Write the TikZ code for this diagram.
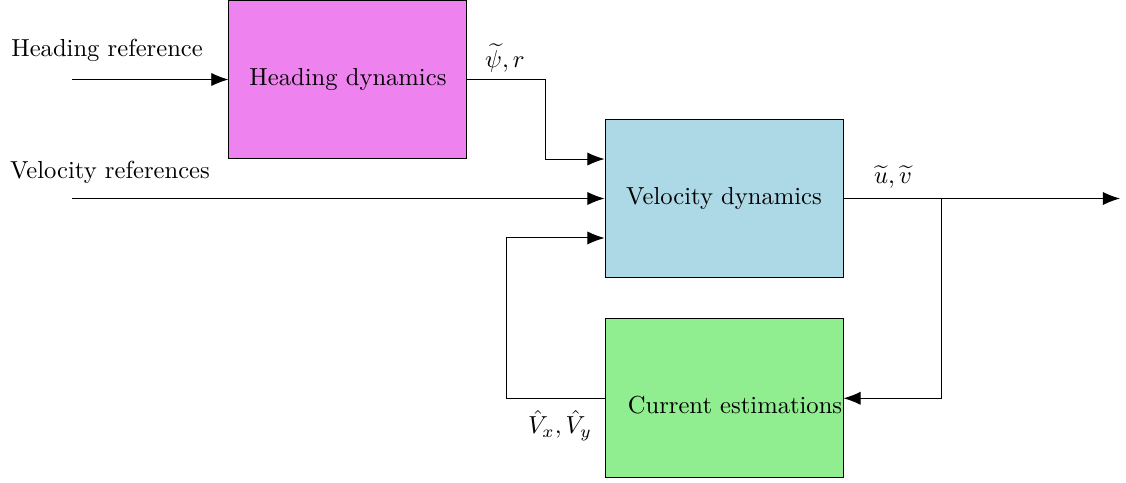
\documentclass[tikz,border=0pt]{standalone}
\usepackage{amsmath,amssymb}
\usetikzlibrary{arrows.meta,positioning}
\definecolor{headfill}{HTML}{EE82EE}
\definecolor{velfill}{HTML}{ADD8E6}
\definecolor{curfill}{HTML}{90EE90}

\begin{document}
\begin{tikzpicture}[
    block/.style={draw, minimum width=3.4cm, minimum height=2.27cm, inner sep=0pt},
    lbl/.style={inner sep=1pt},
    arrow/.style={-{Latex[length=7pt, width=5.4pt]}, line width=0.4pt}
]
\useasboundingbox (0,0) rectangle (16.086,6.886);

\node[block, fill=headfill] (head) at (4.971,5.75) {Heading dynamics};
\node[block, fill=velfill] (vel) at (10.343,4.05) {Velocity dynamics};
\node[block, fill=curfill, below=0.57cm of vel] (cur) {};
\node[lbl] (curtext) at (10.5,1.1) {Current estimations};

% inputs
\coordinate (hin) at (1.03,5.75);
\coordinate (vin) at (1.03,4.05);
\node[lbl] (hreflbl) at (1.53,6.17) {Heading reference};
\node[lbl] (vreflbl) at (1.57,4.43) {Velocity references};
\draw[arrow] (hin) -- (head.west);
\draw[arrow] (vin) -- (vel.west);

% heading to velocity
\draw[arrow] (head.east) -- ++(1.114,0) |- ([yshift=0.564cm]vel.west);
\node[lbl] (psilbl) at (7.214,6.06) {$\widetilde{\psi}, r$};

% output and feedback
\coordinate (vout) at (16.0,4.05);
\coordinate (branch) at (13.457,4.05);
\draw[arrow] (vel.east) -- (vout);
\draw[arrow] (branch) |- (cur.east);
\node[lbl] (uvlbl) at (12.757,4.36) {$\widetilde{u}, \widetilde{v}$};

% current estimation back to velocity
\draw[arrow] (cur.west) -- ++(-1.4,0) |- ([yshift=-0.564cm]vel.west);
\node[lbl] (vxylbl) at (8.0,0.81) {$\hat{V}_x, \hat{V}_y$};
\end{tikzpicture}
\end{document}
